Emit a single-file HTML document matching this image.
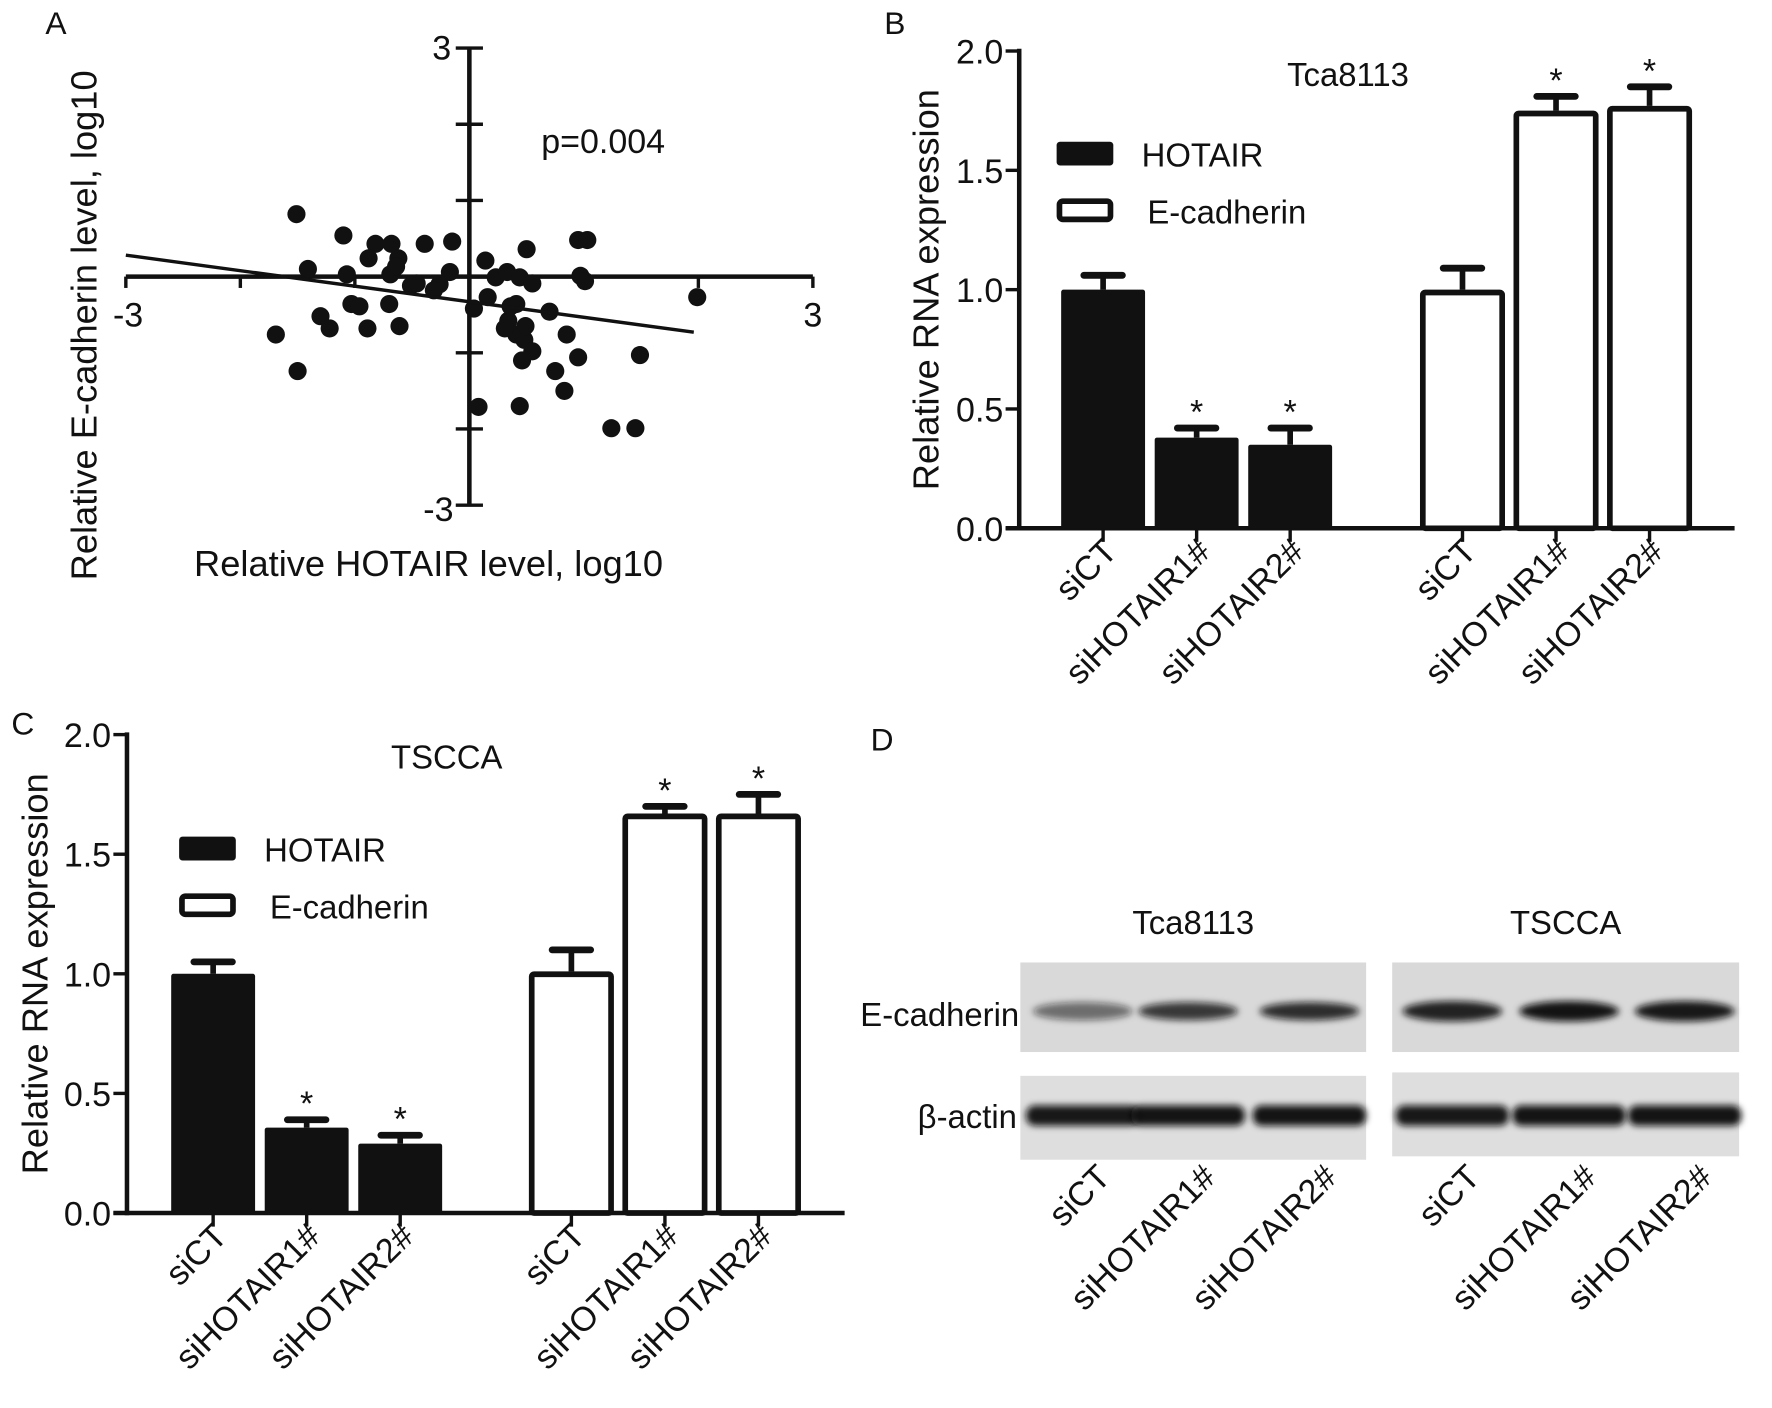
<!DOCTYPE html>
<html><head><meta charset="utf-8"><style>
html,body{margin:0;padding:0;background:#fff}
svg{display:block;font-family:"Liberation Sans",Arial,sans-serif}
</style></head><body>
<svg id="fig" width="1772" height="1408" viewBox="0 0 1563 1242" preserveAspectRatio="none" xmlns="http://www.w3.org/2000/svg">
<rect width="1563" height="1242" fill="#fff"/>
<g font-size="28" fill="#111">
<text x="40" y="30">A</text>
<text x="780" y="30">B</text>
<text x="10" y="648">C</text>
<text x="768" y="662">D</text>
</g>
<g id="pa"></g>
<g id="pb"></g>
<g id="pc"></g>
<g id="pd"></g>
</svg>
<script>
const NS="http://www.w3.org/2000/svg";
// Panel A data
const scatterX=[-1.51,-1.41,-1.10,-0.82,-0.88,-0.68,-0.62,-0.69,-0.64,-0.39,-0.15,-0.17,-0.26,-0.46,-0.31,-0.51,-1.07,-1.30,-1.22,-1.03,-0.96,-0.70,-0.89,-0.61,-1.69,-1.50,0.04,0.16,0.23,0.33,0.50,0.44,0.55,0.41,0.34,0.41,0.48,0.46,0.55,0.70,0.85,0.95,0.75,0.83,0.08,0.44,0.95,1.03,0.97,1.01,1.49,1.24,1.45,1.99,0.14,0.36,0.31,0.49];
const scatterY=[0.82,0.10,0.54,0.43,0.24,0.43,0.24,0.03,0.13,0.43,0.46,0.06,-0.10,-0.09,-0.18,-0.12,0.03,-0.52,-0.68,-0.36,-0.39,-0.36,-0.68,-0.65,-0.76,-1.24,-0.42,-0.27,-0.01,0.06,0.36,-0.01,-0.09,-0.36,-0.58,-0.76,-0.83,-1.10,-0.98,-0.46,-0.76,-1.06,-1.24,-1.50,-1.71,-1.70,0.48,0.48,0.01,-0.06,-1.03,-1.99,-1.99,-0.27,0.21,-0.39,-0.68,-0.65];
const fitLine=[-0.204,-0.33]; // slope, intercept
const fitRange=[-3,1.96];
const axisTicksA=[-3,-2,-1,1,2,3];
// Panel B/C data
const categories=["siCT","siHOTAIR1#","siHOTAIR2#"];
const yTicks=[0,0.5,1.0,1.5,2.0];
const yTickLabels=["0.0","0.5","1.0","1.5","2.0"];
const tcaHotair=[1.0,0.38,0.35];
const tcaHotairErr=[0.06,0.04,0.07];
const tcaEcad=[1.0,1.75,1.77];
const tcaEcadErr=[0.09,0.06,0.08];
const tscHotair=[1.0,0.357,0.29];
const tscHotairErr=[0.05,0.033,0.035];
const tscEcad=[1.01,1.67,1.67];
const tscEcadErr=[0.09,0.03,0.08];
const tcaStars=[false,true,true];
// Panel D band intensities (0-1)
const blotEcadTca=[0.55,0.8,0.85];
const blotEcadTsc=[0.9,0.97,0.95];
const blotActin=[0.95,0.97,0.97];

function el(tag,attrs,parent,text){const e=document.createElementNS(NS,tag);for(const k in attrs)e.setAttribute(k,attrs[k]);if(text!==undefined)e.textContent=text;parent.appendChild(e);return e;}

// ---------- Panel A ----------
(function(){
const g=document.getElementById('pa');
const cx=414,cy=244,sx=101,sy=67.2;
const X=v=>cx+v*sx, Y=v=>cy-v*sy;
let a=el('line',{x1:X(-3),y1:cy,x2:X(3),y2:cy,stroke:'#111','stroke-width':4},g);

a=el('line',{x1:cx,y1:Y(3),x2:cx,y2:Y(-3),stroke:'#111','stroke-width':4},g);

axisTicksA.forEach(t=>{
 let l=el('line',{x1:X(t),y1:cy,x2:X(t),y2:cy+10,stroke:'#111','stroke-width':3},g);
 
 l=el('line',{x1:cx-12,y1:Y(t),x2:cx+12,y2:Y(t),stroke:'#111','stroke-width':3},g);
 
});
for(let i=0;i<scatterX.length;i++){
 const c=el('circle',{cx:X(scatterX[i]),cy:Y(scatterY[i]),r:8,fill:'#111'},g);
 
}
const f=v=>fitLine[0]*v+fitLine[1];
const ln=el('line',{x1:X(fitRange[0]),y1:Y(f(fitRange[0])),x2:X(fitRange[1]),y2:Y(f(fitRange[1])),stroke:'#111','stroke-width':3},g);

const tx=[[X(-3)+2,cy+44,'-3','middle'],[X(3),cy+44,'3','middle'],[cx-16,Y(3)+10,'3','end'],[cx-14,Y(-3)+14,'-3','end']];
tx.forEach(t=>{const e=el('text',{x:t[0],y:t[1],'font-size':30,'text-anchor':t[3],fill:'#111'},g,t[2]);});
let e=el('text',{x:532,y:135,'font-size':30,'text-anchor':'middle',fill:'#111'},g,'p=0.004');

e=el('text',{x:378,y:508,'font-size':32,'text-anchor':'middle',fill:'#111'},g,'Relative HOTAIR level, log10');

e=el('text',{x:0,y:0,'font-size':32,'text-anchor':'middle',fill:'#111',transform:'translate(85,287) rotate(-90)'},g,'Relative E-cadherin level, log10');

})();

// ---------- Bar panels ----------
function barPanel(g,o){
 const Y=v=>o.base-v*o.unit;
 let a=el('line',{x1:o.ax,y1:Y(2)-2,x2:o.ax,y2:o.base+2,stroke:'#111','stroke-width':4},g);
 
 a=el('line',{x1:o.ax-12,y1:o.base,x2:o.xend,y2:o.base,stroke:'#111','stroke-width':4},g);
 
 yTicks.forEach((t,i)=>{
  const l=el('line',{x1:o.ax-12,y1:Y(t),x2:o.ax,y2:Y(t),stroke:'#111','stroke-width':3},g);
  
  const tl=el('text',{x:o.ax-14,y:Y(t)+11,'font-size':30,'text-anchor':'end',fill:'#111'},g,yTickLabels[i]);
  
 });
 const yt=el('text',{x:0,y:0,'font-size':32,'text-anchor':'middle',fill:'#111',transform:`translate(${o.ylx},${o.base-1.0*o.unit}) rotate(-90)`},g,'Relative RNA expression');
 
 const tt=el('text',{x:o.titleX,y:o.titleY,'font-size':29,'text-anchor':'middle',fill:'#111'},g,o.title);
 
 const groups=[[o.h,o.he,o.g1,'hotair'],[o.e,o.ee,o.g2,'ecadherin']];
 groups.forEach((gr,gi)=>{
  for(let i=0;i<3;i++){
   const cx=gr[2]+i*o.step, v=gr[0][i], err=gr[1][i];
   const top=Y(v), cap=Y(v+err);
   const el1=el('line',{x1:cx,y1:top,x2:cx,y2:cap,stroke:'#111','stroke-width':5},g);
   
   const c=el('line',{x1:cx-17,y1:cap,x2:cx+17,y2:cap,stroke:'#111','stroke-width':6,'stroke-linecap':'round'},g);
   
   let b;
   if(gi===0) b=el('rect',{x:cx-37,y:top,width:74,height:o.base-top,fill:'#111',rx:2},g);
   else b=el('rect',{x:cx-35,y:top+2.5,width:70,height:o.base-top-2.5,fill:'#fff',stroke:'#111','stroke-width':5,rx:2},g);
   
   if(tcaStars[i]){
    const s=el('text',{x:cx,y:cap-4,'font-size':30,'text-anchor':'middle',fill:'#111'},g,'*');
    
   }
   const tk=el('line',{x1:cx,y1:o.base,x2:cx,y2:o.base+12,stroke:'#111','stroke-width':3},g);
   
   const lb=el('text',{x:0,y:0,'font-size':30,'text-anchor':'end',fill:'#111',transform:`translate(${cx+14},${o.base+22}) rotate(-45)`},g,categories[i]);
   
  }
 });
 let r=el('rect',{x:o.lx,y:o.ly,width:50,height:21,fill:'#111',rx:3},g);
 
 r=el('rect',{x:o.lx+2.5,y:o.ly+50+2.5,width:45,height:16,fill:'#fff',stroke:'#111','stroke-width':5,rx:3},g);
 
 let t=el('text',{x:o.lx+75,y:o.ly+22,'font-size':29,fill:'#111'},g,'HOTAIR');
 
 t=el('text',{x:o.lx+80,y:o.ly+72,'font-size':29,fill:'#111'},g,'E-cadherin');
 
}
barPanel(document.getElementById('pb'),{ax:899,base:466,unit:210.5,xend:1530,g1:973,g2:1290,step:82.5,h:tcaHotair,he:tcaHotairErr,e:tcaEcad,ee:tcaEcadErr,title:'Tca8113',titleX:1189,titleY:76,ylx:828,lx:932,ly:125});
barPanel(document.getElementById('pc'),{ax:112,base:1070,unit:211,xend:745,g1:188,g2:504,step:82.5,h:tscHotair,he:tscHotairErr,e:tscEcad,ee:tscEcadErr,title:'TSCCA',titleX:394,titleY:678,ylx:42,lx:158,ly:738});

// ---------- Panel D ----------
(function(){
const g=document.getElementById('pd');
const defs=el('defs',{},g);
const flt=el('filter',{id:'blur',x:'-20%',y:'-50%',width:'140%',height:'200%'},defs);
el('feGaussianBlur',{stdDeviation:3},flt);
const blots=[{x:900,w:305,ec:blotEcadTca,cent:[955,1048,1155],title:'Tca8113'},{x:1228,w:306,ec:blotEcadTsc,cent:[1281,1384,1486],title:'TSCCA'}];
blots.forEach((b,bi)=>{
 const ht=el('text',{x:b.x+b.w/2,y:824,'font-size':29,'text-anchor':'middle',fill:'#111'},g,b.title);
 
 let r=el('rect',{x:b.x,y:849,width:b.w,height:79,fill:'#d9d9d9'},g);
 
 r=el('rect',{x:b.x,y:bi?946:949,width:b.w,height:74,fill:'#dedede'},g);
 
 for(let i=0;i<3;i++){
  const c=b.cent[i];
  const ba=el('ellipse',{cx:c,cy:892,rx:44,ry:bi?9:8,fill:'#111','fill-opacity':b.ec[i],filter:'url(#blur)'},g);
  
  const bb=el('rect',{x:c-50,y:975,width:100,height:18,rx:8,fill:'#111','fill-opacity':blotActin[i],filter:'url(#blur)'},g);
  
  const lb=el('text',{x:0,y:0,'font-size':30,'text-anchor':'end',fill:'#111',transform:`translate(${c+26},${1040}) rotate(-45)`},g,categories[i]);
  
 }
});
let t=el('text',{x:899,y:905,'font-size':29,'text-anchor':'end',fill:'#111'},g,'E-cadherin');

t=el('text',{x:897,y:995,'font-size':29,'text-anchor':'end',fill:'#111'},g,'β-actin');

})();
</script>
</body></html>
